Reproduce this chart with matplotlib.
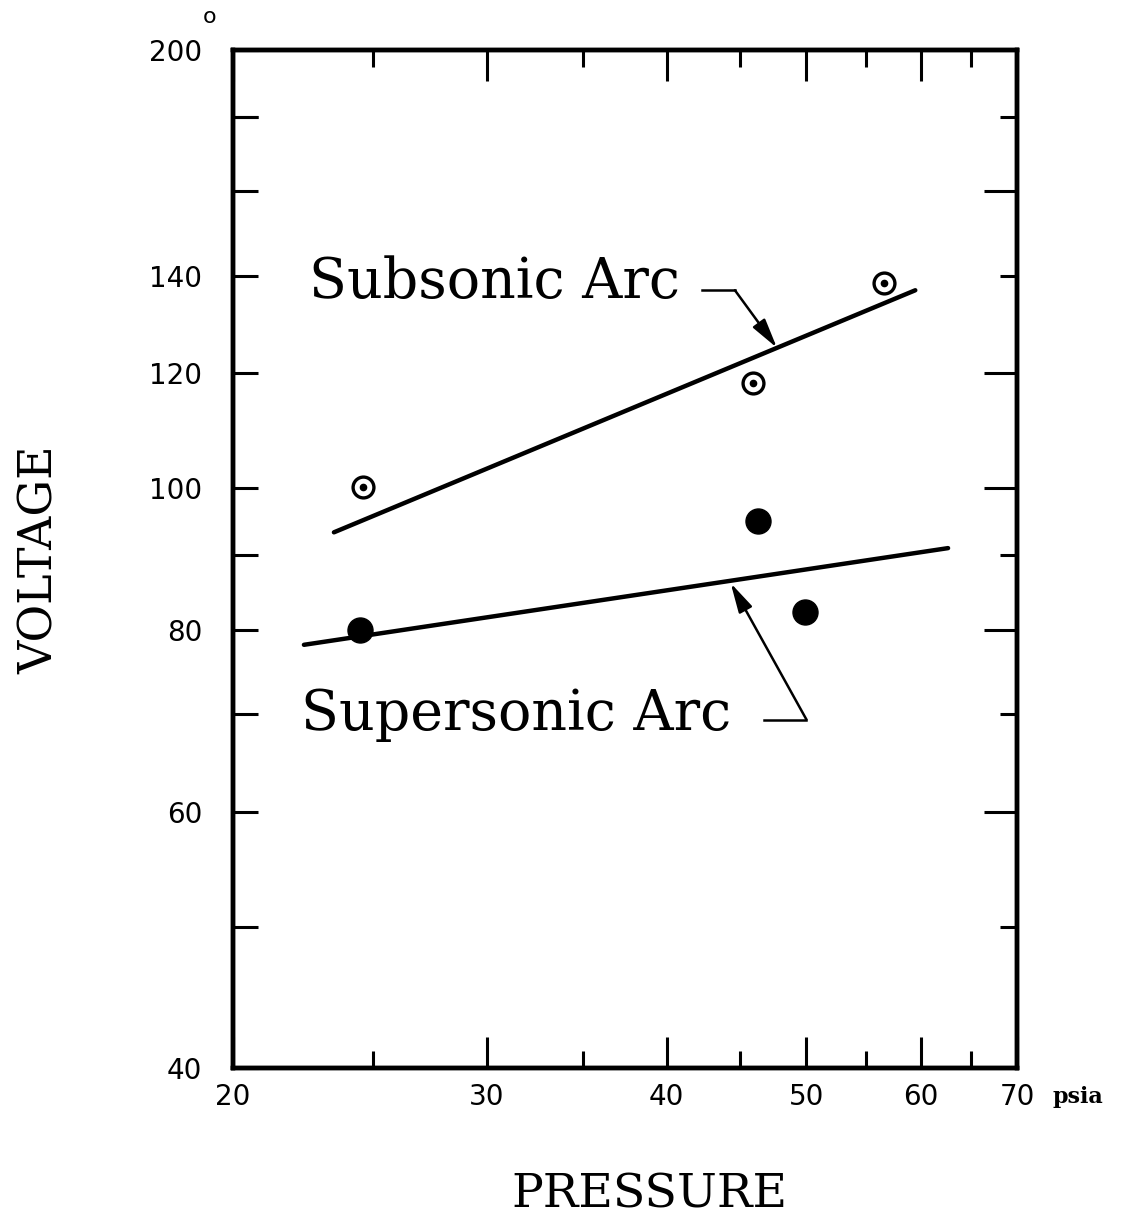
"""
plot.py
-------
Arc voltage versus chamber pressure for subsonic and supersonic arcs,
log-log scales, drawn in the style of an old typewritten report figure.
"""

import matplotlib

matplotlib.use("Agg")
import matplotlib.pyplot as plt
from matplotlib.ticker import FixedLocator, NullFormatter

# measured points (pressure in psia, voltage in V)
subsonic_p = [24.6, 45.9, 56.6]
subsonic_v = [100.2, 118.1, 138.4]
supersonic_p = [24.5, 46.3, 49.9]
supersonic_v = [80.0, 95.0, 82.3]

# faired lines drawn through the data
subsonic_fit_p = [23.5, 59.5]
subsonic_fit_v = [93.3, 136.8]
supersonic_fit_p = [22.4, 62.7]
supersonic_fit_v = [78.1, 91.0]

# axis ticks
x_minor = [25, 35, 45, 55, 65]
x_labels = [20, 30, 40, 50, 60, 70]
y_labels = [40, 60, 80, 100, 120, 140, 200]
y_long = [60, 80, 100, 120, 160]
y_short = [50, 70, 90, 140, 180]

serif = "DejaVu Serif"
hand = "DejaVu Sans"

fig = plt.figure(figsize=(11.40, 12.23), dpi=100)
ax = fig.add_axes([0.2044, 0.1267, 0.6877, 0.8324])
ax.set_xscale("log")
ax.set_yscale("log")
ax.set_xlim(20, 70)
ax.set_ylim(40, 200)

for side in ax.spines.values():
    side.set_linewidth(3.2)

# ticks: labels through FixedLocator on the left/bottom, plain marks elsewhere
ax.xaxis.set_major_locator(FixedLocator(x_labels))
ax.xaxis.set_minor_locator(FixedLocator(x_minor))
ax.set_xticklabels([str(v) for v in x_labels], fontfamily=hand, fontsize=20)
ax.xaxis.set_minor_formatter(NullFormatter())
ax.yaxis.set_major_locator(FixedLocator(y_labels))
ax.yaxis.set_minor_locator(FixedLocator(y_short + [160, 180]))
ax.set_yticklabels([str(v) for v in y_labels], fontfamily=hand, fontsize=20)
ax.yaxis.set_minor_formatter(NullFormatter())

ax.tick_params(axis="x", which="major", direction="in", length=22, width=2.2,
               top=True, pad=11)
ax.tick_params(axis="x", which="minor", direction="in", length=12, width=2.2,
               top=True)
ax.tick_params(axis="y", which="major", direction="in", length=18, width=2.2,
               right=False, pad=22)
ax.tick_params(axis="y", which="minor", direction="in", length=18, width=2.2,
               right=False)

# right-hand ticks alternate long / short, drawn with a twin axis
ax_r = ax.twinx()
ax_r.set_yscale("log")
ax_r.set_ylim(ax.get_ylim())
ax_r.yaxis.set_major_locator(FixedLocator(y_long))
ax_r.yaxis.set_minor_locator(FixedLocator(y_short))
ax_r.yaxis.set_major_formatter(NullFormatter())
ax_r.yaxis.set_minor_formatter(NullFormatter())
ax_r.tick_params(axis="y", which="major", direction="in", length=24, width=2.2)
ax_r.tick_params(axis="y", which="minor", direction="in", length=12, width=2.2)
for side in ax_r.spines.values():
    side.set_linewidth(3.2)

# faired lines
ax.plot(subsonic_fit_p, subsonic_fit_v, color="black", lw=3.2,
        solid_capstyle="round")
ax.plot(supersonic_fit_p, supersonic_fit_v, color="black", lw=3.2,
        solid_capstyle="round")

# subsonic: open circle with a centre dot
ax.plot(subsonic_p, subsonic_v, "o", ms=15, mfc="white", mec="black", mew=2.4)
ax.plot(subsonic_p, subsonic_v, "o", ms=4.5, color="black")
# supersonic: solid dots
ax.plot(supersonic_p, supersonic_v, "o", ms=18, color="black")

# labels with leader arrows
head = "-|>,head_length=1.8,head_width=0.45"
ax.text(22.6, 138.4, "Subsonic Arc", fontfamily=serif, fontsize=40,
        va="center", ha="left")
ax.plot([42.3, 44.6], [136.8, 136.8], color="black", lw=1.8)
ax.annotate("", xy=(47.7, 124.9), xytext=(44.6, 136.8),
            arrowprops=dict(arrowstyle=head, color="black", lw=1.8,
                            shrinkA=0, shrinkB=0))

ax.text(22.3, 69.9, "Supersonic Arc", fontfamily=serif, fontsize=40,
        va="center", ha="left")
ax.plot([46.7, 50.0], [69.4, 69.4], color="black", lw=1.8)
ax.annotate("", xy=(44.3, 86.1), xytext=(50.0, 69.4),
            arrowprops=dict(arrowstyle=head, color="black", lw=1.8,
                            shrinkA=0, shrinkB=0))

ax.text(1.045, -0.028, "psia", transform=ax.transAxes, fontfamily=serif,
        fontsize=16, fontweight="bold", ha="left", va="center")

fig.text(0.184, 0.986, "o", fontfamily=hand, fontsize=16, ha="center",
         va="center")
fig.text(0.035, 0.542, "VOLTAGE", rotation=90, fontfamily=serif, fontsize=33,
         ha="center", va="center")
fig.text(0.570, 0.023, "PRESSURE", fontfamily=serif, fontsize=34,
         ha="center", va="center")

fig.savefig("out.png", dpi=100)
